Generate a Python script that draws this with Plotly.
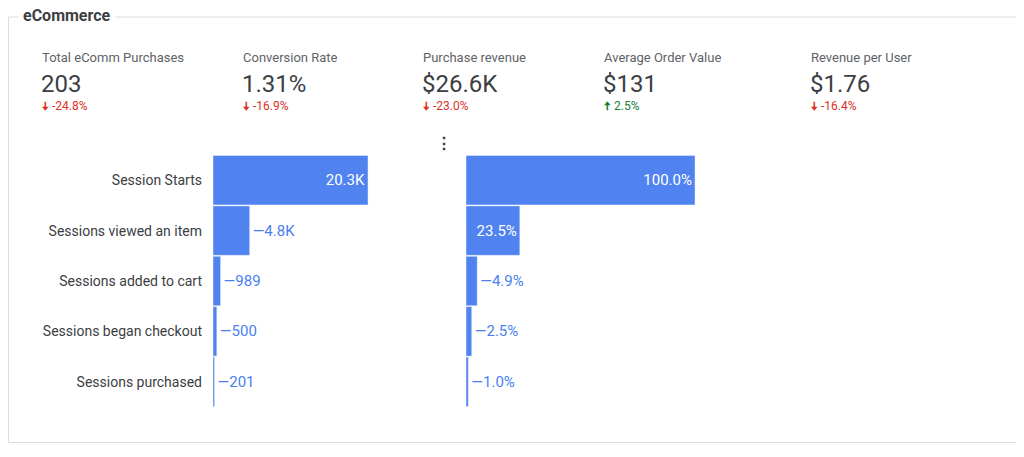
import plotly.graph_objects as go

kpi_labels = ["Total eComm Purchases", "Conversion Rate", "Purchase revenue", "Average Order Value", "Revenue per User"]
kpi_values = ["203", "1.31%", "$26.6K", "$131", "$1.76"]
kpi_deltas = ["-24.8%", "-16.9%", "-23.0%", "2.5%", "-16.4%"]
kpi_up = [False, False, False, True, False]
kpi_x = [40, 241, 421, 602, 809]

stages = ["Session Starts", "Sessions viewed an item", "Sessions added to cart", "Sessions began checkout", "Sessions purchased"]
counts = [20300, 4800, 989, 500, 201]
count_labels = ["20.3K", "4.8K", "989", "500", "201"]
pcts = [100.0, 23.5, 4.9, 2.5, 1.0]

OFF = 8
W, H = 1024 - 2 * OFF, 457 - 2 * OFF
BLUE = "#5083f0"
TXTBLUE = "#4a7ff0"

def px(x): return (x - OFF) / W
def py(y): return 1 - (y - OFF) / H

fig = go.Figure()
pos_c = ["inside"] + ["outside"] * 4
txt_c = [count_labels[0]] + ["—" + t for t in count_labels[1:]]
fig.add_trace(go.Bar(y=stages, x=counts, orientation="h", marker_color=BLUE, text=txt_c,
                     textposition=pos_c, insidetextanchor="end", cliponaxis=False,
                     insidetextfont=dict(color="white", size=15), outsidetextfont=dict(color=TXTBLUE, size=15),
                     xaxis="x", yaxis="y", hoverinfo="skip"))
txt_p = [f"{p:.1f}%" for p in pcts]
pos_p = ["inside", "inside"] + ["outside"] * 3
txt_p = txt_p[:2] + ["—" + t for t in txt_p[2:]]
fig.add_trace(go.Bar(y=stages, x=pcts, orientation="h", marker_color=BLUE, text=txt_p,
                     textposition=pos_p, insidetextanchor="end", cliponaxis=False,
                     insidetextfont=dict(color="white", size=15), outsidetextfont=dict(color=TXTBLUE, size=15),
                     xaxis="x2", yaxis="y2", hoverinfo="skip"))

ydom = [py(407), py(155)]
fig.update_layout(
    width=W, height=H, margin=dict(l=0, r=0, t=0, b=0), showlegend=False,
    paper_bgcolor="white", plot_bgcolor="rgba(0,0,0,0)", bargap=0.02,
    font=dict(family="Roboto, Arial", color="#3c4043"),
    xaxis=dict(domain=[px(213), px(418)], range=[0, 20300 * 205 / 155], visible=False, fixedrange=True),
    yaxis=dict(domain=ydom, autorange="reversed", showgrid=False, zeroline=False, showline=False,
               ticks="", tickfont=dict(size=14, color="#3c4043"), ticklabelstandoff=10),
    xaxis2=dict(domain=[px(466), px(720)], range=[0, 100 * 254 / 229], visible=False, fixedrange=True),
    yaxis2=dict(domain=ydom, anchor="x2", autorange="reversed", showticklabels=False, showgrid=False,
                zeroline=False),
)

# card border
fig.add_shape(type="rect", xref="paper", yref="paper", x0=px(8.5), x1=px(1016.5), y0=py(442.5), y1=py(17),
              line=dict(color="#dadce0", width=1), layer="below")
fig.add_annotation(xref="paper", yref="paper", x=px(18), y=py(16), text="<b>eCommerce</b>",
                   showarrow=False, xanchor="left", yanchor="middle", bgcolor="white",
                   font=dict(size=16, color="#3c4043"), borderpad=4)

for lab, val, d, up, x in zip(kpi_labels, kpi_values, kpi_deltas, kpi_up, kpi_x):
    fig.add_annotation(xref="paper", yref="paper", x=px(x), y=py(58), text=lab, showarrow=False,
                       xanchor="left", yanchor="middle", font=dict(size=13, color="#5f6368"))
    fig.add_annotation(xref="paper", yref="paper", x=px(x - 1), y=py(84), text=val, showarrow=False,
                       xanchor="left", yanchor="middle", font=dict(size=24, color="#3c4043"))
    col = "#188038" if up else "#d93025"
    fig.add_annotation(xref="paper", yref="paper", x=px(x), y=py(106),
                       text=f"<b>{'🠅' if up else '🠇'}</b> {d}", showarrow=False,
                       xanchor="left", yanchor="middle", font=dict(size=12, color=col))

fig.add_annotation(xref="paper", yref="paper", x=px(444), y=py(132), text="<b>⋮</b>", showarrow=False,
                   font=dict(size=16, color="#3c4043"))

fig.write_html("out.html")
